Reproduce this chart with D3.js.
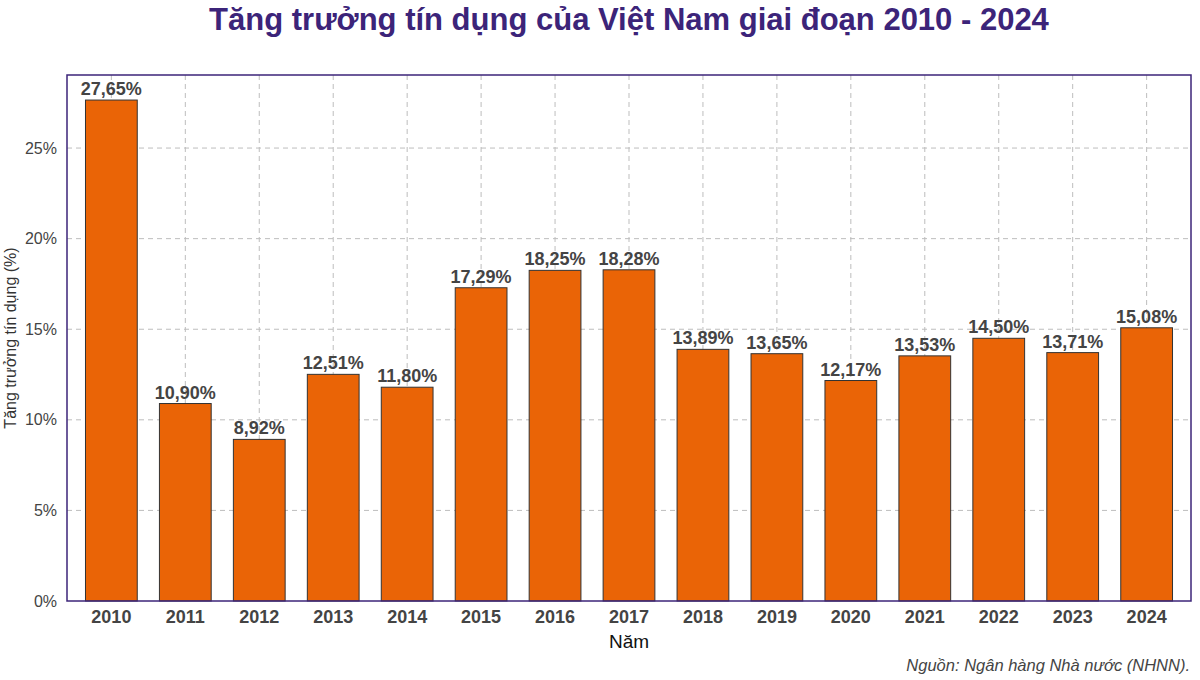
<!DOCTYPE html>
<html>
<head>
<meta charset="utf-8">
<script src="https://cdn.jsdelivr.net/npm/d3@7"></script>
<style>
  body { margin: 0; background: #fff; }
  text { font-family: "Liberation Sans", Arial, sans-serif; }
</style>
</head>
<body>
<div id="viz"></div>
<script>
const years = ['2010', '2011', '2012', '2013', '2014', '2015', '2016', '2017', '2018', '2019', '2020', '2021', '2022', '2023', '2024'];
const growth = [27.65, 10.90, 8.92, 12.51, 11.80, 17.29, 18.25, 18.28, 13.89, 13.65, 12.17, 13.53, 14.50, 13.71, 15.08];
const yTicks = [0, 5, 10, 15, 20, 25];

const width = 1200;
const height = 680;
const margin = { top: 75, right: 9, bottom: 79, left: 67 };
const purple = '#3c2479';

const svg = d3.select('#viz')
      .append('svg:svg')
      .attr('width', width)
      .attr('height', height);

const x = d3.scaleBand()
      .domain(years)
      .range([margin.left, width - margin.right])
      .paddingInner(0.3)
      .paddingOuter(0.25);

const y = d3.scaleLinear()
      .domain([0, d3.max(growth) * 1.05])
      .range([height - margin.bottom, margin.top]);

const grid = svg.append('svg:g')
      .attr('stroke', '#bdbdbd')
      .attr('stroke-width', 1)
      .attr('stroke-dasharray', '5 4');

grid.selectAll('line.h')
    .data(yTicks.slice(1))
    .join('svg:line')
    .attr('class', 'h')
    .attr('x1', margin.left)
    .attr('x2', width - margin.right)
    .attr('y1', d => y(d))
    .attr('y2', d => y(d));

grid.selectAll('line.v')
    .data(years)
    .join('svg:line')
    .attr('class', 'v')
    .attr('x1', d => x(d) + x.bandwidth() / 2)
    .attr('x2', d => x(d) + x.bandwidth() / 2)
    .attr('y1', margin.top)
    .attr('y2', height - margin.bottom);

// bars
svg.append('svg:g')
    .selectAll('rect')
    .data(growth)
    .join('svg:rect')
    .attr('x', (d, i) => x(years[i]))
    .attr('y', d => y(d))
    .attr('width', x.bandwidth())
    .attr('height', d => y(0) - y(d))
    .attr('fill', '#ea6406')
    .attr('stroke', '#333')
    .attr('stroke-width', 1);

// value labels
svg.append('svg:g')
    .selectAll('text')
    .data(growth)
    .join('svg:text')
    .attr('x', (d, i) => x(years[i]) + x.bandwidth() / 2)
    .attr('y', d => y(d) - 5)
    .attr('text-anchor', 'middle')
    .attr('font-size', 18)
    .attr('font-weight', 'bold')
    .attr('fill', '#444')
    .text(d => d.toFixed(2).replace('.', ',') + '%');

// panel border
svg.append('svg:rect')
    .attr('x', margin.left)
    .attr('y', margin.top)
    .attr('width', width - margin.left - margin.right)
    .attr('height', height - margin.top - margin.bottom)
    .attr('fill', 'none')
    .attr('stroke', purple)
    .attr('stroke-width', 1.5);

// axes
const xAxis = svg.append('svg:g')
      .attr('transform', `translate(0 ${height - margin.bottom})`)
      .call(d3.axisBottom(x).tickSize(0).tickPadding(9));
xAxis.select('.domain').remove();
xAxis.selectAll('text')
    .attr('font-size', 18)
    .attr('font-weight', 'bold')
    .attr('fill', '#444')
    .attr('font-family', '"Liberation Sans", Arial, sans-serif');

const yAxis = svg.append('svg:g')
      .attr('transform', `translate(${margin.left} 0)`)
      .call(d3.axisLeft(y).tickValues(yTicks).tickFormat(d => d + '%').tickSize(0).tickPadding(10));
yAxis.select('.domain').remove();
yAxis.selectAll('text')
    .attr('font-size', 16)
    .attr('fill', '#444')
    .attr('font-family', '"Liberation Sans", Arial, sans-serif');

// titles
svg.append('svg:text')
    .attr('x', (margin.left + width - margin.right) / 2)
    .attr('y', 30)
    .attr('text-anchor', 'middle')
    .attr('font-size', 31)
    .attr('font-weight', 'bold')
    .attr('fill', purple)
    .text('Tăng trưởng tín dụng của Việt Nam giai đoạn 2010 - 2024');

svg.append('svg:text')
    .attr('x', (margin.left + width - margin.right) / 2)
    .attr('y', 648)
    .attr('text-anchor', 'middle')
    .attr('font-size', 19)
    .attr('fill', '#111')
    .text('Năm');

svg.append('svg:text')
    .attr('transform', `translate(16 ${(margin.top + height - margin.bottom) / 2}) rotate(-90)`)
    .attr('text-anchor', 'middle')
    .attr('font-size', 16)
    .attr('fill', '#333')
    .text('Tăng trưởng tín dụng (%)');

svg.append('svg:text')
    .attr('x', width - 10)
    .attr('y', 671)
    .attr('text-anchor', 'end')
    .attr('font-size', 16.5)
    .attr('font-style', 'italic')
    .attr('fill', '#444')
    .text('Nguồn: Ngân hàng Nhà nước (NHNN).');
</script>
</body>
</html>
